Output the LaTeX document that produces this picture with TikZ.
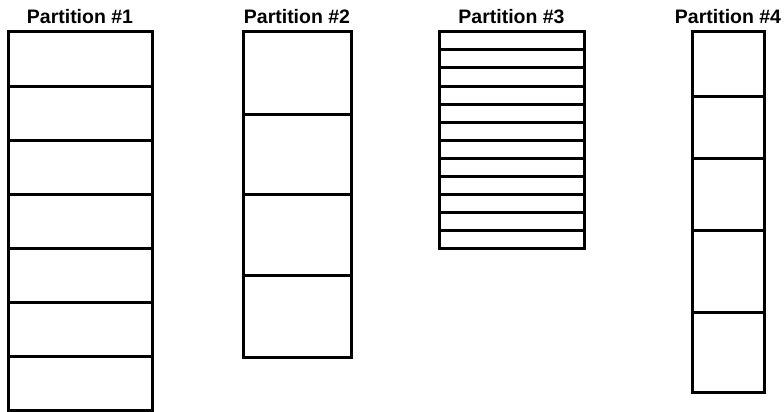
\documentclass[tikz,border=0pt]{standalone}
\usepackage{fontspec}
\setmainfont{Liberation Sans}
\usetikzlibrary{positioning}
\tikzset{
  block/.style={draw, line width=3pt},
  ptitle/.style={font=\bfseries\fontsize{19.5}{22}\selectfont, anchor=base, inner sep=0pt}
}
\begin{document}
\begin{tikzpicture}[x=1pt, y=-1pt]
	\useasboundingbox (0,0) rectangle (784,412);

	% partition 1: seven equal blocks
	\node[ptitle] (t1) at (80,24) {Partition \#1};
	\foreach \i in {0,...,6}
		\draw[block] (8,32+54*\i) rectangle ++(144,54);

	% partition 2: four blocks
	\node[ptitle] (t2) at (297,24) {Partition \#2};
	\foreach \y/\h in {32/82, 114/80, 194/81, 275/82}
		\draw[block] (243,\y) rectangle ++(108,\h);

	% partition 3: twelve thin blocks
	\node[ptitle] (t3) at (511.5,24) {Partition \#3};
	\foreach \i in {0,...,11}
		\draw[block] (439,32+18*\i) rectangle ++(145,18);

	% partition 4: five blocks of uneven size
	\node[ptitle] (t4) at (728,24) {Partition \#4};
	\foreach \y/\h in {32/64, 96/62, 158/72, 230/82, 312/80}
		\draw[block] (692,\y) rectangle ++(72,\h);

\end{tikzpicture}
\end{document}
